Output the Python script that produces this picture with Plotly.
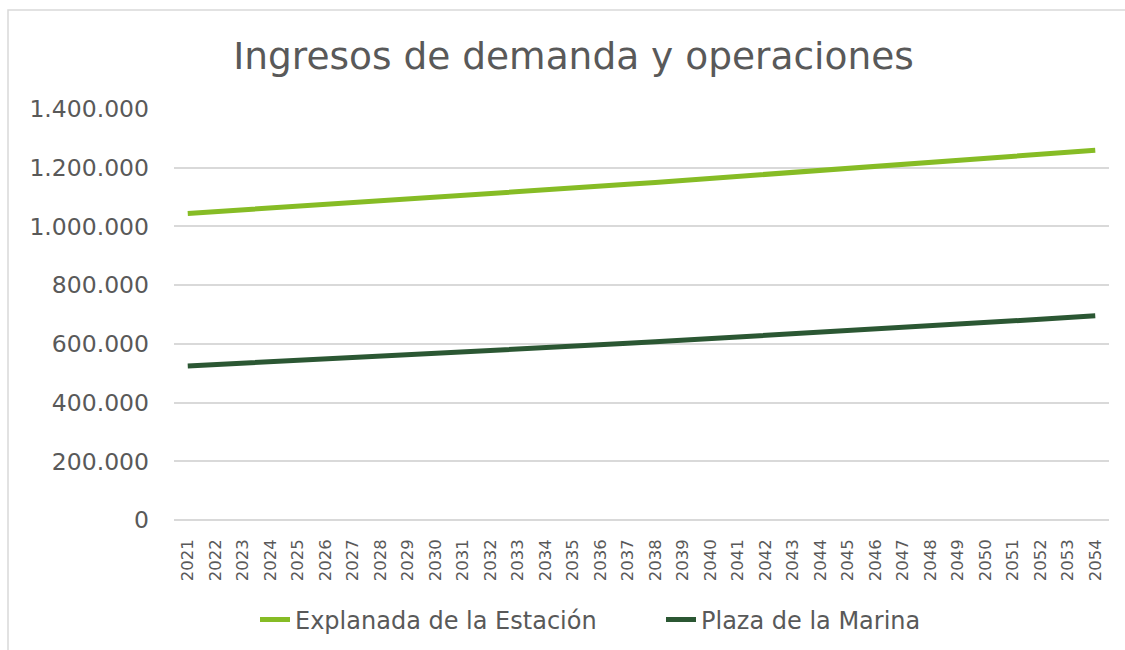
import plotly.graph_objects as go

years = [str(y) for y in range(2021, 2055)]
explanada = [1044000, 1049950, 1055900, 1061900, 1068000, 1074100, 1080200, 1086400,
             1092600, 1098800, 1105100, 1111400, 1117700, 1124100, 1130500, 1136900,
             1143400, 1149900, 1156500, 1163100, 1169700, 1176400, 1183100, 1189800,
             1196600, 1203400, 1210300, 1217200, 1224100, 1231100, 1238100, 1245200,
             1252300, 1259400]
plaza = [525000, 529500, 534000, 538600, 543200, 547900, 552600, 557300,
         562100, 566900, 571700, 576600, 581500, 586500, 591500, 596600,
         601700, 606800, 612000, 617300, 622500, 627900, 633200, 638700,
         644100, 649600, 655200, 660800, 666500, 672200, 677900, 683700,
         689600, 695500]
y_ticks = [0, 200000, 400000, 600000, 800000, 1000000, 1200000, 1400000]

FONT = "DejaVu Sans"
GRAY = "#595959"

W, H = 1125, 650
L, R, T, B = 174, 16, 109, 130
pw, ph = W - L - R, H - T - B

def px2paper(x, y):
    return (x - L) / pw, (H - B - y) / ph

fig = go.Figure()
fig.add_trace(go.Scatter(x=years, y=explanada, mode="lines", name="Explanada de la Estación",
                         line=dict(color="#86BC25", width=5)))
fig.add_trace(go.Scatter(x=years, y=plaza, mode="lines", name="Plaza de la Marina",
                         line=dict(color="#2B5733", width=5)))

bx0, by0 = px2paper(8, 10)
bx1, by1 = px2paper(1140, 665)

fig.update_layout(
    width=W, height=H,
    margin=dict(l=L, r=R, t=T, b=B, autoexpand=False),
    paper_bgcolor="white", plot_bgcolor="white",
    separators=",.",
    font=dict(family=FONT, color=GRAY),
    title=dict(text="Ingresos de demanda y operaciones", font=dict(size=37.5, color=GRAY, family=FONT),
               x=(573.5) / W, xanchor="center", y=1 - 56 / H, yanchor="middle"),
    xaxis=dict(type="category", range=[-0.5, 33.5], tickangle=-90, tickfont=dict(size=16.5, color=GRAY),
               showgrid=False, showline=False, ticks="", ticklabelstandoff=15, fixedrange=True,
               automargin=False),
    yaxis=dict(range=[0, 1400000], tickvals=y_ticks, tickformat=",d", tickfont=dict(size=23.5, color=GRAY),
               showgrid=True, gridcolor="#d9d9d9", gridwidth=1.5, zeroline=True, zerolinecolor="#d9d9d9",
               zerolinewidth=1.5, showline=False, ticks="", ticklabelstandoff=24, automargin=False),
    showlegend=True,
    legend=dict(orientation="h", x=px2paper(255, 0)[0], xanchor="left", y=px2paper(0, 620)[1], yanchor="middle",
                font=dict(size=24, color=GRAY, family=FONT), entrywidth=361, entrywidthmode="pixels"),
    shapes=[dict(type="rect", xref="paper", yref="paper", x0=bx0, y0=by1, x1=bx1, y1=by0,
                 line=dict(color="#d9d9d9", width=1.5), fillcolor="rgba(0,0,0,0)", layer="below")],
)

fig.write_html("out.html", config={"displayModeBar": False},
               post_script="document.body.style.margin='0px';")
